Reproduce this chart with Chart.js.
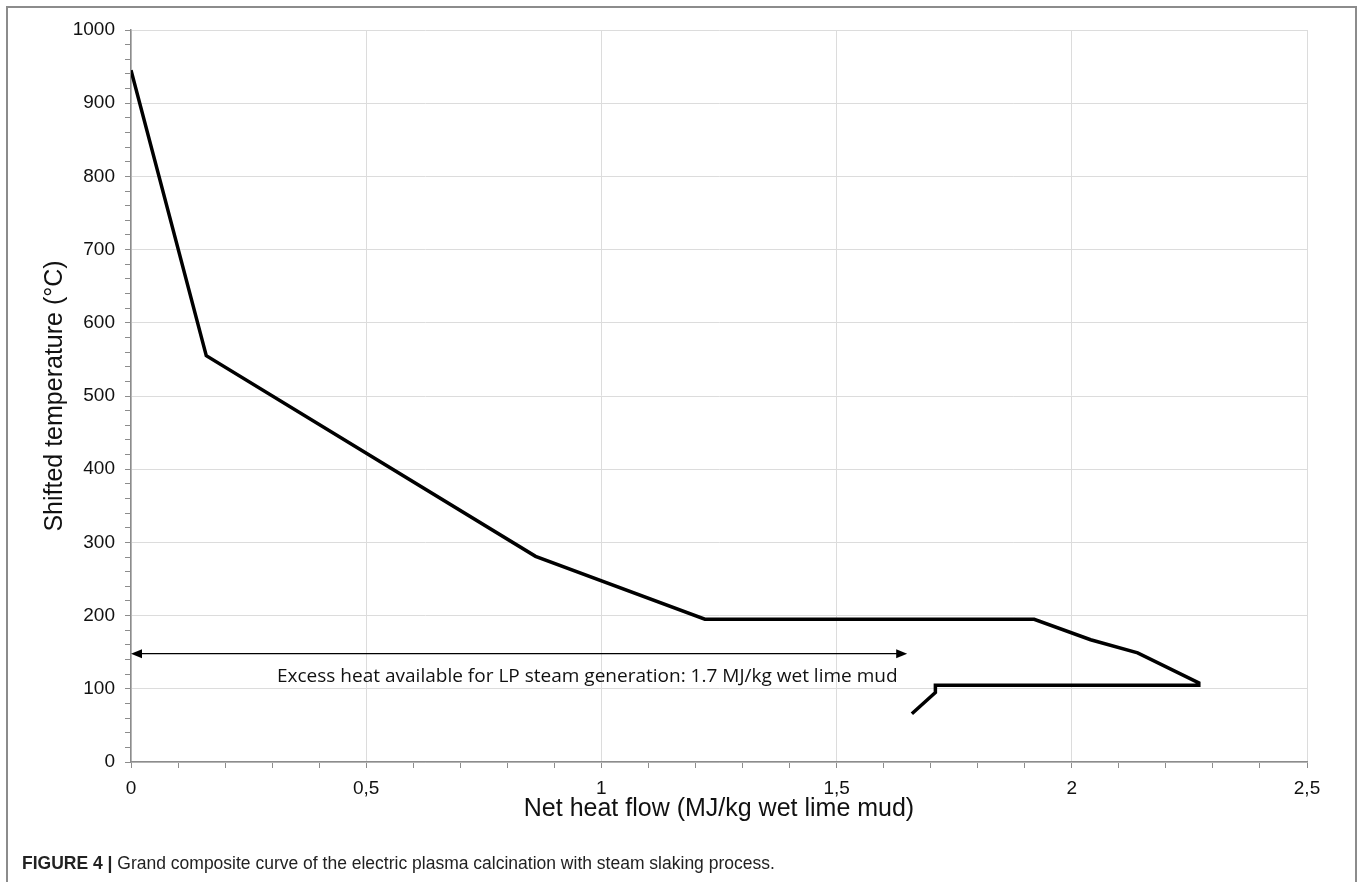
<!DOCTYPE html>
<html lang="en">
    <head>
        <meta charset="UTF-8">
        <title>Grand composite curve</title>
        <script src="https://cdn.jsdelivr.net/npm/chart.js"></script>
        <style type="text/css">
            body {
                margin: 0;
                background: #fff;
            }
            #wrap {
                position: relative;
                width: 1360px;
                height: 882px;
                overflow: hidden;
            }
            #myChart {
                position: absolute;
                left: 0;
                top: 0;
            }
            .frame {
                position: absolute;
                left: 6px;
                top: 6px;
                width: 1351px;
                height: 900px;
                border: 2px solid #8c8c8c;
                box-sizing: border-box;
            }
            .caption {
                position: absolute;
                left: 22px;
                top: 852px;
                font-family: "Liberation Sans", Arial, sans-serif;
                font-size: 17.5px;
                line-height: 22px;
                color: #222;
            }
            .caption b {
                font-weight: bold;
            }
        </style>
    </head>
    <body>
        <div id="wrap">
            <canvas id="myChart" width="1360" height="882"></canvas>
            <div class="frame"></div>
            <div class="caption"><b>FIGURE 4 |</b> Grand composite curve of the electric plasma calcination with steam slaking process.</div>
        </div>
        <script>
            // curve (MJ/kg wet lime mud, °C)
            const heatFlow = [0, 0.16, 0.86, 1.22, 1.92, 2.04, 2.14, 2.27, 2.27, 1.71, 1.71, 1.66];
            const shiftedTemp = [945, 555, 281, 195, 195, 167, 149, 108, 105, 105, 95, 66];

            // excess heat arrow + its label
            const arrowFrom = 0;
            const arrowTo = 1.65;
            const arrowTemp = 148;
            const noteText = 'Excess heat available for LP steam generation: 1.7 MJ/kg wet lime mud';
            const noteX = 0.97;
            const noteTemp = 117;

            const points = heatFlow.map(function (x, i) {
                return {x: x, y: shiftedTemp[i]};
            });

            const axisFont = {family: 'Liberation Sans, Arial, sans-serif', size: 19};
            const titleFont = {family: 'Liberation Sans, Arial, sans-serif', size: 25};

            // draws the double headed arrow and the note under it
            const arrowPlugin = {
                id: 'arrowNote',
                afterDatasetsDraw(chart) {
                    const ctx = chart.ctx;
                    const xs = chart.scales.x, ys = chart.scales.y;
                    const x1 = xs.getPixelForValue(arrowFrom);
                    const x2 = xs.getPixelForValue(arrowTo);
                    const y = ys.getPixelForValue(arrowTemp);
                    ctx.save();
                    ctx.strokeStyle = '#000';
                    ctx.fillStyle = '#000';
                    ctx.lineWidth = 1.2;
                    ctx.beginPath();
                    ctx.moveTo(x1 + 8, y);
                    ctx.lineTo(x2 - 8, y);
                    ctx.stroke();
                    ctx.beginPath();
                    ctx.moveTo(x1, y);
                    ctx.lineTo(x1 + 11, y - 4.5);
                    ctx.lineTo(x1 + 11, y + 4.5);
                    ctx.closePath();
                    ctx.fill();
                    ctx.beginPath();
                    ctx.moveTo(x2, y);
                    ctx.lineTo(x2 - 11, y - 4.5);
                    ctx.lineTo(x2 - 11, y + 4.5);
                    ctx.closePath();
                    ctx.fill();

                    // fit the note to the width it has in the figure
                    let size = 16;
                    ctx.font = size + 'px "Open Sans", sans-serif';
                    size = size * 621 / ctx.measureText(noteText).width;
                    ctx.font = size + 'px "Open Sans", sans-serif';
                    ctx.textAlign = 'center';
                    ctx.textBaseline = 'middle';
                    ctx.fillStyle = '#111';
                    ctx.fillText(noteText, xs.getPixelForValue(noteX), ys.getPixelForValue(noteTemp));
                    ctx.restore();
                }
            };

            const config = {
                type: 'scatter',
                data: {
                    datasets: [{
                        data: points,
                        showLine: true,
                        borderColor: '#000',
                        borderWidth: 3.5,
                        pointRadius: 0,
                        fill: false,
                        tension: 0
                    }]
                },
                options: {
                    responsive: false,
                    animation: false,
                    layout: {
                        padding: {left: 40, right: 53, top: 30, bottom: 58}
                    },
                    plugins: {
                        legend: {display: false},
                        tooltip: {enabled: false}
                    },
                    scales: {
                        x: {
                            type: 'linear',
                            min: 0,
                            max: 2.5,
                            afterFit: function (s) { s.height = 62; },
                            border: {color: '#8c8c8c', width: 1.5},
                            grid: {
                                color: function (c) {
                                    return Math.round(c.tick.value * 10) % 5 === 0 ? '#dcdcdc' : 'rgba(0,0,0,0)';
                                },
                                tickColor: '#8c8c8c',
                                tickLength: 6,
                                lineWidth: 1
                            },
                            ticks: {
                                stepSize: 0.1,
                                autoSkip: false,
                                maxRotation: 0,
                                padding: 9,
                                color: '#111',
                                font: axisFont,
                                callback: function (v) {
                                    const t = Math.round(v * 10);
                                    return t % 5 === 0 ? String(t / 10).replace('.', ',') : '';
                                }
                            },
                            title: {
                                display: true,
                                text: 'Net heat flow (MJ/kg wet lime mud)',
                                color: '#111',
                                font: titleFont,
                                padding: 0
                            }
                        },
                        y: {
                            type: 'linear',
                            min: 0,
                            max: 1000,
                            afterFit: function (s) { s.width = 91; },
                            border: {color: '#8c8c8c', width: 1.5},
                            grid: {
                                color: function (c) {
                                    return c.tick.value % 100 === 0 ? '#dcdcdc' : 'rgba(0,0,0,0)';
                                },
                                tickColor: '#8c8c8c',
                                tickLength: 6,
                                lineWidth: 1
                            },
                            ticks: {
                                stepSize: 20,
                                autoSkip: false,
                                padding: 10,
                                color: '#111',
                                font: axisFont,
                                callback: function (v) {
                                    return v % 100 === 0 ? String(v) : '';
                                }
                            },
                            title: {
                                display: true,
                                text: 'Shifted temperature (°C)',
                                color: '#111',
                                font: titleFont,
                                padding: 0
                            }
                        }
                    }
                },
                plugins: [arrowPlugin]
            };

            const myChart = new Chart(document.getElementById('myChart'), config);
        </script>
    </body>
</html>
